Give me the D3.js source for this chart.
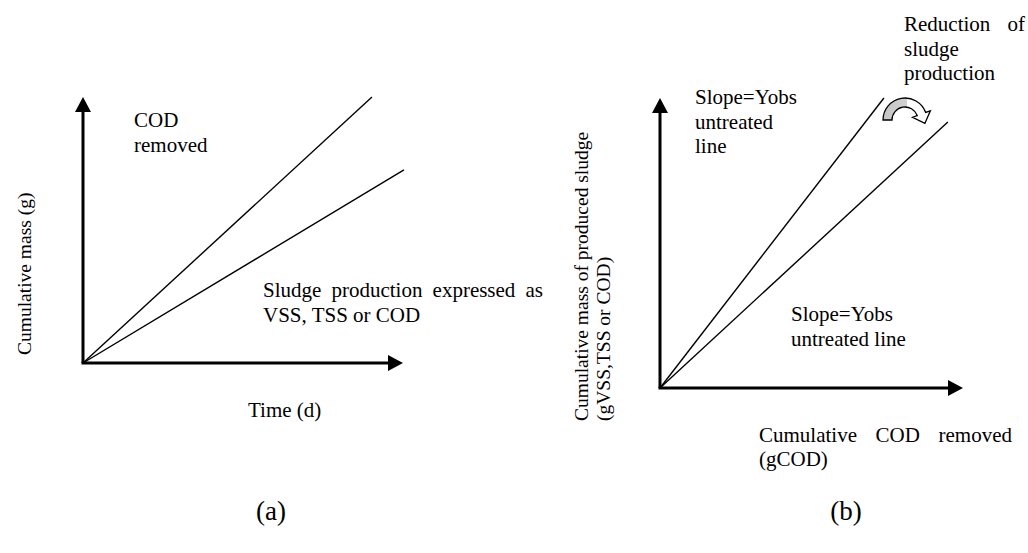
<!DOCTYPE html>
<html><head><meta charset="utf-8">
<script src="https://cdn.jsdelivr.net/npm/d3@7"></script>
<style>
body{margin:0;background:#fff}
</style>
</head><body>
<svg id="c" width="1028" height="553"></svg>
<script>
// ---- data (schematic, arbitrary units 0..10) ----
const axisMax = 10;
const seriesA = ["COD removed", "Sludge production"];
const endXA = [9.03, 10.03];
const endYA = [10.0, 7.26];
const seriesB = ["Untreated", "Treated"];
const endXB = [7.39, 9.50];
const endYB = [10.0, 9.17];

const labelA_y = "Cumulative mass (g)";
const labelA_x = "Time (d)";
const labelA_cod = ["COD", "removed"];
const labelA_sludge = ["Sludge production expressed as", "VSS, TSS or COD"];
const labelB_y = ["Cumulative mass of produced sludge", "(gVSS,TSS or COD)"];
const labelB_x = ["Cumulative COD removed", "(gCOD)"];
const labelB_upper = ["Slope=Yobs", "untreated", "line"];
const labelB_lower = ["Slope=Yobs", "untreated line"];
const labelB_reduction = ["Reduction of", "sludge", "production"];
const panelTags = ["(a)", "(b)"];

const svg = d3.select("#c");
svg.append("rect").attr("width",1028).attr("height",553).attr("fill","#fff");

const FS = 21, VFS = 19.5;
const FONT = "Liberation Serif";

function axes(g, x, y){
  const ox = x(0), oy = y(0), tx = x(axisMax), ty = y(axisMax);
  const L = 15, W = 8;
  g.append("line").attr("x1",ox).attr("y1",oy).attr("x2",ox).attr("y2",ty+L)
    .attr("stroke","#000").attr("stroke-width",3);
  g.append("line").attr("x1",ox-1.5).attr("y1",oy).attr("x2",tx-L).attr("y2",oy)
    .attr("stroke","#000").attr("stroke-width",3);
  g.append("path").attr("d",`M${ox},${ty}L${ox-W},${ty+L}L${ox+W},${ty+L}Z`).attr("fill","#000");
  g.append("path").attr("d",`M${tx},${oy}L${tx-L},${oy-W}L${tx-L},${oy+W}Z`).attr("fill","#000");
}

function lines(g, x, y, ex, ey){
  const line = d3.line().x(d=>x(d[0])).y(d=>y(d[1]));
  ex.forEach((v,i)=>{
    g.append("path").attr("d", line([[0,0],[ex[i],ey[i]]]))
      .attr("fill","none").attr("stroke","#000").attr("stroke-width",1.4);
  });
}

function txt(g, s, x, y, size){
  return g.append("text").attr("x",x).attr("y",y).attr("font-size",size||FS)
    .attr("font-family",FONT).attr("fill","#000").text(s);
}
function justified(g, s, x0, x1, y){
  const t = txt(g, s, x0, y);
  const w = t.node().getComputedTextLength();
  const n = s.split(" ").length - 1;
  if (n > 0) t.attr("word-spacing", ((x1 - x0 - w) / n));
  return t;
}
function vtxt(g, s, x, y){
  return g.append("text").attr("transform",`translate(${x},${y}) rotate(-90)`)
    .attr("font-size",VFS).attr("font-family",FONT).attr("fill","#000").text(s);
}

// ---- panel (a) ----
const xA = d3.scaleLinear([0,axisMax],[83,403]);
const yA = d3.scaleLinear([0,axisMax],[363,97]);
const gA = svg.append("g");
axes(gA, xA, yA);
lines(gA, xA, yA, endXA, endYA);
txt(gA, labelA_cod[0], 134, 127);
txt(gA, labelA_cod[1], 134, 152);
justified(gA, labelA_sludge[0], 263, 543, 297);
txt(gA, labelA_sludge[1], 263, 322);
txt(gA, labelA_x, 248, 417);
vtxt(gA, labelA_y, 31, 355);

// ---- panel (b) ----
const xB = d3.scaleLinear([0,axisMax],[660,963]);
const yB = d3.scaleLinear([0,axisMax],[388,98]);
const gB = svg.append("g");
axes(gB, xB, yB);
lines(gB, xB, yB, endXB, endYB);
labelB_upper.forEach((s,i)=>txt(gB, s, 695, 104 + i*24.5));
labelB_lower.forEach((s,i)=>txt(gB, s, 791, 321 + i*24.5));
justified(gB, labelB_reduction[0], 904, 1025, 31);
txt(gB, labelB_reduction[1], 904, 55.5);
txt(gB, labelB_reduction[2], 904, 80);
justified(gB, labelB_x[0], 759, 1012, 442);
txt(gB, labelB_x[1], 759, 466);
labelB_y.forEach((s,i)=> vtxt(gB, s, 588 + i*22, 421));

// curved arrow (reduction)
const defs = svg.append("defs");
const grad = defs.append("linearGradient").attr("id","ag").attr("x1","0").attr("x2","1").attr("y1","0").attr("y2","0");
grad.append("stop").attr("offset","0").attr("stop-color","#c4c4c4");
grad.append("stop").attr("offset","0.5").attr("stop-color","#d2d2d2");
grad.append("stop").attr("offset","0.5").attr("stop-color","#fff");
grad.append("stop").attr("offset","1").attr("stop-color","#fff");
(function(){
  const cx = 905, cy = 120, R = 22, r = 13, a1 = 20*Math.PI/180;
  const P = (rad, th) => [cx + rad*Math.cos(th), cy - rad*Math.sin(th)];
  const rm = (R+r)/2, hw = (R-r)/2 + 5;
  const o0 = P(R, Math.PI), i1 = P(r, a1);
  const bo = P(rm+hw, a1), bi = P(rm-hw, a1);
  const mid = P(rm, a1);
  const tip = [mid[0] + 10*Math.sin(a1), mid[1] + 10*Math.cos(a1)];
  const p = d3.path();
  p.moveTo(o0[0], o0[1]);
  p.arc(cx, cy, R, Math.PI, 2*Math.PI - a1, false);
  p.lineTo(bo[0], bo[1]);
  p.lineTo(tip[0], tip[1]);
  p.lineTo(bi[0], bi[1]);
  p.lineTo(i1[0], i1[1]);
  p.arc(cx, cy, r, 2*Math.PI - a1, Math.PI, true);
  p.closePath();
  gB.append("path").attr("d", p.toString()).attr("fill","url(#ag)")
    .attr("stroke","#000").attr("stroke-width",1.3).attr("stroke-linejoin","miter");
})();

// panel tags
svg.append("text").attr("x",271).attr("y",520).attr("font-size",27).attr("text-anchor","middle")
  .attr("font-family",FONT).text(panelTags[0]);
svg.append("text").attr("x",846).attr("y",520).attr("font-size",27).attr("text-anchor","middle")
  .attr("font-family",FONT).text(panelTags[1]);
</script>
</body></html>
